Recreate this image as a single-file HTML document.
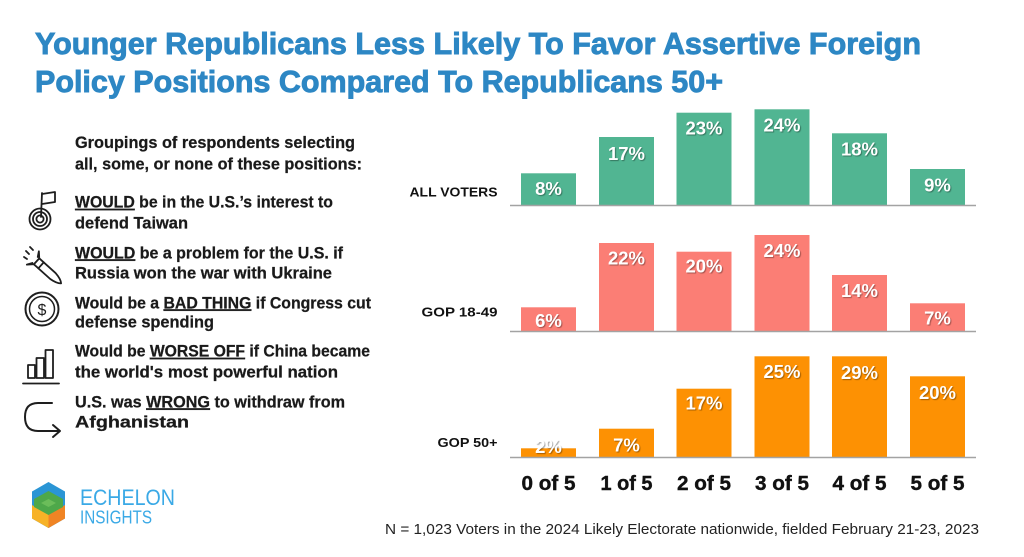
<!DOCTYPE html>
<html><head><meta charset="utf-8"><style>
html,body{margin:0;padding:0;background:#fff;}
svg{display:block;}
.t{font-family:"Liberation Sans",sans-serif;}
.v{font-family:"Liberation Sans",sans-serif;font-weight:bold;font-size:18.5px;fill:#fff;text-anchor:middle;text-shadow:1px 1px 1px rgba(0,0,0,0.35);}
.c{font-family:"Liberation Sans",sans-serif;font-weight:bold;font-size:20px;fill:#111;text-anchor:middle;stroke:#111;stroke-width:0.4;}
.r{font-family:"Liberation Sans",sans-serif;font-weight:bold;font-size:13px;fill:#111;text-anchor:end;}
.l{font-family:"Liberation Sans",sans-serif;font-weight:bold;font-size:16.3px;fill:#1a1a1a;stroke:#1a1a1a;stroke-width:0.25;}
.ic{fill:none;stroke:#1e1e1e;stroke-width:1.8;stroke-linecap:round;stroke-linejoin:round;}
</style></head><body>
<svg width="1024" height="557" viewBox="0 0 1024 557" xmlns="http://www.w3.org/2000/svg">
<rect width="1024" height="557" fill="#fff"/>
<!-- Title -->
<text class="t" x="35" y="54" font-size="31" font-weight="bold" fill="#2d87c4" stroke="#2d87c4" stroke-width="0.9" textLength="886" lengthAdjust="spacingAndGlyphs">Younger Republicans Less Likely To Favor Assertive Foreign</text>
<text class="t" x="35" y="92" font-size="31" font-weight="bold" fill="#2d87c4" stroke="#2d87c4" stroke-width="0.9" textLength="688" lengthAdjust="spacingAndGlyphs">Policy Positions Compared To Republicans 50+</text>

<!-- Left text -->
<text class="l" x="75" y="148" textLength="280" lengthAdjust="spacingAndGlyphs">Groupings of respondents selecting</text>
<text class="l" x="75" y="169.5" textLength="287" lengthAdjust="spacingAndGlyphs">all, some, or none of these positions:</text>

<text class="l" x="75" y="207.7" textLength="258" lengthAdjust="spacingAndGlyphs"><tspan text-decoration="underline">WOULD</tspan> be in the U.S.’s interest to</text>
<text class="l" x="75" y="228.3" textLength="113" lengthAdjust="spacingAndGlyphs">defend Taiwan</text>

<text class="l" x="75" y="258.3" textLength="268" lengthAdjust="spacingAndGlyphs"><tspan text-decoration="underline">WOULD</tspan> be a problem for the U.S. if</text>
<text class="l" x="75" y="278.3" textLength="257" lengthAdjust="spacingAndGlyphs">Russia won the war with Ukraine</text>

<text class="l" x="75" y="308.3" textLength="296" lengthAdjust="spacingAndGlyphs">Would be a <tspan text-decoration="underline">BAD THING</tspan> if Congress cut</text>
<text class="l" x="75" y="327.5" textLength="139" lengthAdjust="spacingAndGlyphs">defense spending</text>

<text class="l" x="75" y="356.7" textLength="295" lengthAdjust="spacingAndGlyphs">Would be <tspan text-decoration="underline">WORSE OFF</tspan> if China became</text>
<text class="l" x="75" y="377.3" textLength="263" lengthAdjust="spacingAndGlyphs">the world's most powerful nation</text>

<text class="l" x="75" y="407.3" textLength="270" lengthAdjust="spacingAndGlyphs">U.S. was <tspan text-decoration="underline">WRONG</tspan> to withdraw from</text>
<text class="l" x="75" y="427.3" textLength="114" lengthAdjust="spacingAndGlyphs">Afghanistan</text>

<!-- Icons -->
<g class="ic">
  <!-- target -->
  <circle cx="40" cy="219" r="10.5"/>
  <circle cx="40" cy="219" r="7"/>
  <circle cx="40" cy="219" r="3.6"/>
  <line x1="41" y1="217" x2="42" y2="193"/>
  <path d="M42 194 L55 192 L55 202 L42 204"/>
  <!-- rocket -->
  <g transform="translate(44,268) rotate(42)">
    <path d="M-10 -4 L12 -4 Q20 -3 23 0 Q20 3 12 4 L-10 4 Z"/>
    <path d="M-10 -4 L-15 -9 L-12 -4"/>
    <path d="M-10 4 L-15 9 L-12 4"/>
    <line x1="-4" y1="-4" x2="-4" y2="4"/>
  </g>
  <line x1="26" y1="251" x2="29" y2="254"/>
  <line x1="30" y1="247" x2="33" y2="250"/>
  <line x1="24" y1="257" x2="27" y2="259"/>
  <!-- dollar -->
  <circle cx="42" cy="309" r="16.5" stroke-width="2"/>
  <circle cx="42" cy="309" r="12.5" stroke-width="1.5"/>
  <!-- bars -->
  <rect x="28" y="365" width="7" height="13"/>
  <rect x="36.5" y="358" width="7.5" height="20"/>
  <rect x="45.5" y="350" width="7.5" height="28"/>
  <line x1="23" y1="383.5" x2="59" y2="383.5"/>
  <!-- arrow -->
  <path d="M52 403 L38 403 Q25 403 25 417 Q25 431 38 431 L59 431" stroke-width="2"/>
  <path d="M53 425 L60 431 L53 437" stroke-width="2"/>
</g>
<text x="42" y="315" font-family="Liberation Sans,sans-serif" font-size="16" fill="#1e1e1e" text-anchor="middle">$</text>

<!-- Row labels -->
<text class="r" x="497.5" y="196.4" textLength="88" lengthAdjust="spacingAndGlyphs">ALL VOTERS</text>
<text class="r" x="497.5" y="316.7" textLength="76" lengthAdjust="spacingAndGlyphs">GOP 18-49</text>
<text class="r" x="497.5" y="447" textLength="60" lengthAdjust="spacingAndGlyphs">GOP 50+</text>

<!-- ALL VOTERS bars -->
<g fill="#51b592">
  <rect x="521" y="173.3" width="55" height="31.7"/>
  <rect x="599" y="137" width="55" height="68"/>
  <rect x="676.5" y="112.7" width="55" height="92.3"/>
  <rect x="754.5" y="109.3" width="55" height="95.7"/>
  <rect x="832" y="133.3" width="55" height="71.7"/>
  <rect x="910" y="169" width="55" height="36"/>
</g>
<text class="v" x="548.5" y="194.8">8%</text>
<text class="v" x="626.5" y="159.8">17%</text>
<text class="v" x="704" y="134.5">23%</text>
<text class="v" x="782" y="131.5">24%</text>
<text class="v" x="859.5" y="155.5">18%</text>
<text class="v" x="937.5" y="191.5">9%</text>
<line x1="510" y1="205.5" x2="976" y2="205.5" stroke="#a3a3a3" stroke-width="1.5"/>

<!-- GOP 18-49 bars -->
<g fill="#fb7e75">
  <rect x="521" y="307.3" width="55" height="23.7"/>
  <rect x="599" y="243" width="55" height="88"/>
  <rect x="676.5" y="251.7" width="55" height="79.3"/>
  <rect x="754.5" y="235" width="55" height="96"/>
  <rect x="832" y="275" width="55" height="56"/>
  <rect x="910" y="303.3" width="55" height="27.7"/>
</g>
<text class="v" x="548.5" y="327.2">6%</text>
<text class="v" x="626.5" y="264.5">22%</text>
<text class="v" x="704" y="272.5">20%</text>
<text class="v" x="782" y="257.2">24%</text>
<text class="v" x="859.5" y="297.2">14%</text>
<text class="v" x="937.5" y="324.5">7%</text>
<line x1="510" y1="331.5" x2="976" y2="331.5" stroke="#a3a3a3" stroke-width="1.5"/>

<!-- GOP 50+ bars -->
<g fill="#fd9103">
  <rect x="521" y="448.3" width="55" height="8.7"/>
  <rect x="599" y="428.7" width="55" height="28.3"/>
  <rect x="676.5" y="388.7" width="55" height="68.3"/>
  <rect x="754.5" y="356.3" width="55" height="100.7"/>
  <rect x="832" y="356.3" width="55" height="100.7"/>
  <rect x="910" y="376.3" width="55" height="80.7"/>
</g>
<text class="v" x="548.5" y="453.2">2%</text>
<text class="v" x="626.5" y="451.5">7%</text>
<text class="v" x="704" y="409.5">17%</text>
<text class="v" x="782" y="378.2">25%</text>
<text class="v" x="859.5" y="379.2">29%</text>
<text class="v" x="937.5" y="398.8">20%</text>
<line x1="510" y1="457.5" x2="976" y2="457.5" stroke="#a3a3a3" stroke-width="1.5"/>

<!-- Category labels -->
<text class="c" x="548.5" y="490" textLength="54" lengthAdjust="spacingAndGlyphs">0 of 5</text>
<text class="c" x="626.5" y="490" textLength="52" lengthAdjust="spacingAndGlyphs">1 of 5</text>
<text class="c" x="704" y="490" textLength="54" lengthAdjust="spacingAndGlyphs">2 of 5</text>
<text class="c" x="782" y="490" textLength="54" lengthAdjust="spacingAndGlyphs">3 of 5</text>
<text class="c" x="859.5" y="490" textLength="54" lengthAdjust="spacingAndGlyphs">4 of 5</text>
<text class="c" x="937.5" y="490" textLength="54" lengthAdjust="spacingAndGlyphs">5 of 5</text>

<!-- Footer -->
<text class="t" x="385" y="534" font-size="15" fill="#222" textLength="594" lengthAdjust="spacingAndGlyphs">N = 1,023 Voters in the 2024 Likely Electorate nationwide, fielded February 21-23, 2023</text>

<!-- Logo -->
<polygon points="48.5,482 65,491.5 65,518.5 48.5,528 32,518.5 32,491.5" fill="#2a95d5"/>
<polygon points="32,505 48.5,514.5 48.5,528 32,518.5" fill="#f7b227"/>
<polygon points="65,505 48.5,514.5 48.5,528 65,518.5" fill="#f08424"/>
<polygon points="34,499 48.5,491 63,499 63,507 48.5,515 34,507" fill="#4ea84a"/>
<polygon points="41,503 48.5,499 56,503 48.5,507" fill="#6bbd5a"/>
<text class="t" x="80" y="505" font-size="22" fill="#3aa9e6" textLength="95" lengthAdjust="spacingAndGlyphs">ECHELON</text>
<text class="t" x="80" y="523.5" font-size="18.5" fill="#3aa9e6" textLength="72" lengthAdjust="spacingAndGlyphs">INSIGHTS</text>
</svg>
</body></html>
